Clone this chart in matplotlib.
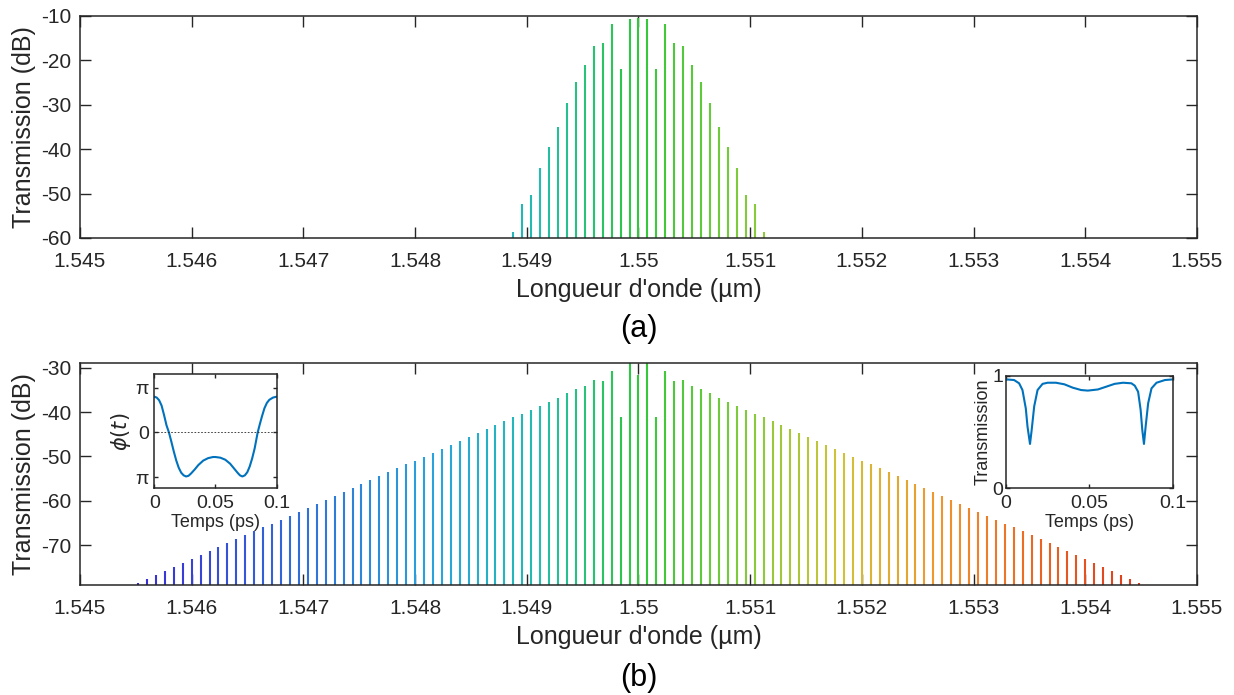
import numpy as np
import matplotlib
matplotlib.use("Agg")
import matplotlib.pyplot as plt
from matplotlib.colors import LinearSegmentedColormap, Normalize

plt.rcParams['font.family'] = ['Liberation Sans', 'DejaVu Sans']
plt.rcParams['axes.unicode_minus'] = False
plt.rcParams['mathtext.fontset'] = 'dejavusans'

# comb grid (µm): 10 GHz spacing around 1.55 µm
center = 1.55
spacing = 0.00008

# (a) comb lines, k = -14 .. 14, transmission in dB
k_a = np.arange(-14, 15)
trans_a = [-58.6, -52.3, -50.4, -44.3, -39.5, -34.9, -29.6, -24.8, -21.0, -16.7,
           -16.0, -11.8, -21.9, -10.7, -10.4, -10.6, -22.0, -11.8, -16.0, -16.7,
           -21.0, -24.8, -29.6, -34.9, -39.5, -44.3, -50.4, -52.3, -58.6]

# (b) comb lines, k = -56 .. 56, transmission in dB
k_b = np.arange(-56, 57)
trans_b_left = [-78.5, -77.6, -76.7, -75.8, -74.9, -74.0, -73.1, -72.3, -71.4, -70.5,
                -69.6, -68.7, -67.8, -66.9, -66.0, -65.2, -64.3, -63.4, -62.5, -61.6,
                -60.7, -59.8, -58.9, -58.1, -57.2, -56.3, -55.4, -54.5, -53.6, -52.7,
                -51.8, -51.0, -50.1, -49.2, -48.3, -47.4, -46.5, -45.6, -44.7, -43.9,
                -43.0, -42.1, -41.2, -40.3, -39.4, -38.5, -37.6, -36.7, -35.7, -34.8,
                -34.0, -32.7, -32.9, -30.8, -41.2, -28.9]
trans_b_center = [-31.6]
trans_b_right = [-28.9, -41.2, -30.8, -32.9, -32.7, -34.0, -34.8, -35.7, -36.7, -37.6,
                 -38.5, -39.4, -40.3, -41.2, -42.1, -43.0, -43.9, -44.7, -45.6, -46.5,
                 -47.4, -48.3, -49.2, -50.1, -51.0, -51.8, -52.7, -53.6, -54.5, -55.4,
                 -56.3, -57.2, -58.1, -58.9, -59.8, -60.7, -61.6, -62.5, -63.4, -64.3,
                 -65.2, -66.0, -66.9, -67.8, -68.7, -69.6, -70.5, -71.4, -72.3, -73.1,
                 -74.0, -74.9, -75.8, -76.7, -77.6, -78.5]
trans_b = trans_b_left + trans_b_center + trans_b_right

# inset: phase (in units of pi) vs time (ps)
t_phase = [0, 0.002, 0.004, 0.006, 0.008, 0.010, 0.012, 0.014, 0.016, 0.018,
           0.020, 0.022, 0.024, 0.026, 0.028, 0.030, 0.033, 0.036, 0.040, 0.044,
           0.048, 0.050, 0.054, 0.058, 0.062, 0.065, 0.068, 0.070, 0.072, 0.074,
           0.076, 0.078, 0.080, 0.082, 0.0845, 0.086, 0.088, 0.090, 0.092, 0.094,
           0.097, 0.100]
phase_pi = [0.80, 0.78, 0.72, 0.60, 0.39, 0.16, 0.0, -0.21, -0.43, -0.63,
            -0.79, -0.90, -0.96, -0.985, -0.97, -0.92, -0.83, -0.73, -0.63, -0.575,
            -0.55, -0.55, -0.565, -0.61, -0.70, -0.80, -0.90, -0.96, -0.985, -0.96,
            -0.89, -0.76, -0.58, -0.36, 0.0, 0.16, 0.36, 0.54, 0.66, 0.73,
            0.78, 0.80]

# inset: transmission vs time (ps)
t_trans = [0, 0.005, 0.008, 0.010, 0.012, 0.013, 0.0145, 0.0155, 0.017, 0.019,
           0.022, 0.025, 0.030, 0.035, 0.040, 0.045, 0.049, 0.055, 0.060, 0.065,
           0.070, 0.075, 0.077, 0.079, 0.0805, 0.0815, 0.0825, 0.0835, 0.085, 0.087,
           0.090, 0.095, 0.100]
trans_t = [0.970, 0.964, 0.935, 0.875, 0.71, 0.55, 0.395, 0.52, 0.73, 0.875,
           0.93, 0.94, 0.94, 0.926, 0.896, 0.875, 0.87, 0.88, 0.905, 0.93,
           0.94, 0.935, 0.914, 0.86, 0.70, 0.52, 0.395, 0.55, 0.757, 0.89,
           0.94, 0.964, 0.970]

xticks = [1.545, 1.546, 1.547, 1.548, 1.549, 1.55, 1.551, 1.552, 1.553, 1.554, 1.555]

ink = '#262626'
cmap = LinearSegmentedColormap.from_list('comb', [
    (0.00, '#3b2bd6'), (0.15, '#2f6ad9'), (0.30, '#2aa4dc'), (0.40, '#22bcb0'),
    (0.50, '#2ec83a'), (0.60, '#7ccb3a'), (0.70, '#d0c338'), (0.80, '#f0962e'),
    (0.90, '#ea6424'), (1.00, '#de3a1a')])
norm = Normalize(1.5455, 1.5545)

fig = plt.figure(figsize=(12.34, 6.95), dpi=100)


def style_axes(ax, size=15, length=8, xpad=10, ypad=6):
    for s in ax.spines.values():
        s.set_color(ink)
        s.set_linewidth(1.1)
    ax.tick_params(direction='in', length=length, width=1.0, top=True, right=True,
                   labelsize=size, colors=ink)
    ax.tick_params(axis='x', pad=xpad)
    ax.tick_params(axis='y', pad=ypad)


def comb_panel(ax, k, vals, ylim, yticks):
    wl = center + np.asarray(k) * spacing
    ax.vlines(wl, -200, vals, colors=cmap(norm(wl)), linewidth=1.5)
    ax.set_xlim(1.545, 1.555)
    ax.set_ylim(*ylim)
    ax.set_xticks(xticks)
    ax.set_xticklabels(['%g' % v for v in xticks])
    ax.set_yticks(yticks)
    ax.set_yticklabels(['%d' % v for v in yticks])
    style_axes(ax)
    ax.set_xlabel("Longueur d'onde (µm)", fontsize=18, color=ink, labelpad=5)
    ax.set_ylabel('Transmission (dB)', fontsize=18, color=ink, labelpad=4)


ax1 = fig.add_axes([0.0648, 0.6576, 0.9052, 0.3194])
comb_panel(ax1, k_a, trans_a, (-60, -10), [-60, -50, -40, -30, -20, -10])

ax2 = fig.add_axes([0.0648, 0.1583, 0.9052, 0.3194])
comb_panel(ax2, k_b, trans_b, (-79.0, -28.9), [-70, -60, -50, -40, -30])

fig.text(0.5174, 1 - 329 / 695, '(a)', fontsize=22, ha='center', va='center', color='black')
fig.text(0.5174, 1 - 678 / 695, '(b)', fontsize=22, ha='center', va='center', color='black')

# phase inset
axp = fig.add_axes([0.1250, 0.2974, 0.0992, 0.1640])
axp.plot(t_phase, np.asarray(phase_pi) * np.pi, color='#0072BD', linewidth=1.5)
axp.axhline(0, color=ink, linestyle=(0, (2, 2)), linewidth=0.6)
axp.set_xlim(0, 0.1)
axp.set_ylim(-1.25 * np.pi, 1.30 * np.pi)
axp.set_xticks([0, 0.05, 0.1])
axp.set_xticklabels(['0', '0.05', '0.1'])
axp.set_yticks([-np.pi, 0, np.pi])
axp.set_yticklabels(['π', '0', 'π'])
style_axes(axp, size=14, length=3, xpad=5, ypad=4)
axp.set_xlabel('Temps (ps)', fontsize=13, color=ink, labelpad=1)
axp.set_ylabel(r'$\phi(t)$', fontsize=15, color=ink, labelpad=2)

# transmission inset
axt = fig.add_axes([0.8150, 0.2974, 0.1358, 0.1616])
axt.plot(t_trans, trans_t, color='#0072BD', linewidth=1.5)
axt.set_xlim(0, 0.1)
axt.set_ylim(0, 1)
axt.set_xticks([0, 0.05, 0.1])
axt.set_xticklabels(['0', '0.05', '0.1'])
axt.set_yticks([0, 1])
axt.set_yticklabels(['0', '1'])
style_axes(axt, size=14, length=3, xpad=5, ypad=2)
axt.set_xlabel('Temps (ps)', fontsize=13, color=ink, labelpad=1)
axt.set_ylabel('Transmission', fontsize=13, color=ink, labelpad=0)

fig.savefig('out.png', dpi=100, facecolor='white')
